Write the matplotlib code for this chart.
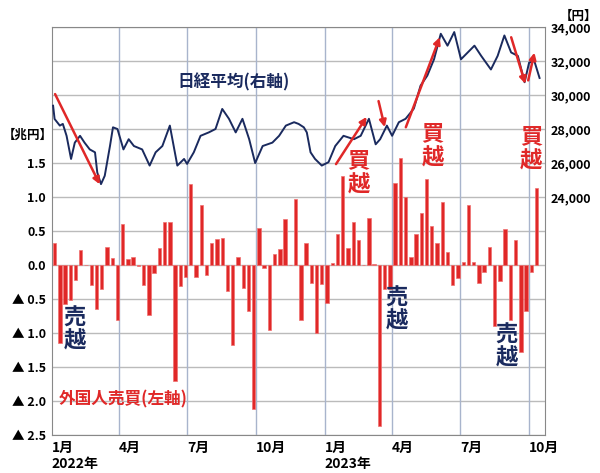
import matplotlib
matplotlib.use("Agg")
import matplotlib.pyplot as plt
import numpy as np
import pandas as pd

plt.rcParams['font.family'] = ['Noto Sans CJK JP', 'DejaVu Sans']
plt.rcParams['font.weight'] = 'bold'

ORIGIN = pd.Timestamp('2022-01-01')

# Weekly foreign investor net buying (trillion yen)
flow_values = [0.33, -1.15, -0.57, -0.52, -0.22, 0.22, 0.0, -0.29, -0.65, -0.35,
               0.27, 0.11, -0.80, 0.61, 0.09, 0.12, -0.02, -0.30, -0.74, -0.11,
               0.25, 0.63, 0.63, -1.71, -0.31, -0.17, 1.19, -0.18, 0.88, -0.14,
               0.33, 0.39, 0.40, -0.38, -1.18, 0.12, -0.33, -0.67, -2.12, 0.55,
               -0.05, -0.96, 0.17, 0.24, 0.67, 0.0, 0.97, -0.80,
               0.32, -0.26, -1.00, -0.28, -0.56, 0.03, 0.46, 1.31, 0.25, 0.64,
               0.37, 0.0, 0.69, 0.02, -2.37, -0.35, -0.35, 1.20, 1.58, 1.00,
               0.12, 0.45, 0.77, 1.27, 0.57, 0.33, 0.92, 0.19, -0.30, -0.19,
               0.04, 0.88, 0.04, -0.26, -0.10, 0.27, -0.90, -0.24, 0.53, -0.80,
               0.37, -1.28, -0.68, -0.10, 1.14]
flow_dates = pd.date_range('2022-01-05', periods=len(flow_values), freq='7D')

# Nikkei 225 (yen)
nikkei_dates = ['2022-01-03', '2022-01-05', '2022-01-12', '2022-01-16', '2022-01-21', '2022-01-27',
                '2022-02-01', '2022-02-08', '2022-02-14', '2022-02-21', '2022-02-28', '2022-03-03',
                '2022-03-08', '2022-03-13', '2022-03-20', '2022-03-24', '2022-03-30', '2022-04-07',
                '2022-04-14', '2022-04-21', '2022-05-02', '2022-05-12', '2022-05-20', '2022-05-29',
                '2022-06-08', '2022-06-18', '2022-06-27', '2022-07-01', '2022-07-10', '2022-07-19',
                '2022-07-30', '2022-08-08', '2022-08-17', '2022-08-26', '2022-09-04', '2022-09-13',
                '2022-09-22', '2022-09-30', '2022-10-10', '2022-10-23', '2022-11-01', '2022-11-10',
                '2022-11-21', '2022-11-27', '2022-12-04', '2022-12-08', '2022-12-13', '2022-12-19',
                '2022-12-28', '2023-01-06', '2023-01-15', '2023-01-26', '2023-02-09', '2023-02-18',
                '2023-03-01', '2023-03-10', '2023-03-16', '2023-03-25', '2023-04-01', '2023-04-10',
                '2023-04-19', '2023-04-30', '2023-05-09', '2023-05-18', '2023-05-27', '2023-06-05',
                '2023-06-14', '2023-06-23', '2023-07-02', '2023-07-11', '2023-07-20', '2023-07-29',
                '2023-08-11', '2023-08-20', '2023-08-29', '2023-09-07', '2023-09-16', '2023-09-25',
                '2023-10-01', '2023-10-08', '2023-10-15']
nikkei_values = [29370, 28590, 28200, 28300, 27600, 26240,
                 27200, 27600, 27200, 26800, 26630, 25450,
                 24760, 25250, 27000, 28100, 28000, 26800,
                 27400, 27000, 26800, 25850, 26630, 27000,
                 28200, 25850, 26240, 25950, 26630, 27600,
                 27800, 28000, 29180, 28600, 27800, 28600,
                 27400, 26000, 27000, 27200, 27600, 28200,
                 28400, 28300, 28100, 27800, 26630, 26240,
                 25850, 26050, 27000, 27600, 27400, 27600,
                 28600, 27100, 27400, 28200, 27600, 28400,
                 28600, 29200, 30550, 31140, 32100, 33600,
                 32900, 33700, 32100, 32500, 32900, 32300,
                 31500, 32300, 33500, 32500, 32300, 30750,
                 31900, 32000, 31000]

month_ticks = ['2022-01-01', '2022-04-01', '2022-07-01', '2022-10-01',
               '2023-01-01', '2023-04-01', '2023-07-01', '2023-10-01']
month_labels = ['1月\n2022年', '4月', '7月', '10月', '1月\n2023年', '4月', '7月', '10月']

left_ticks = [-2.5, -2.0, -1.5, -1.0, -0.5, 0.0, 0.5, 1.0, 1.5]
left_labels = ['▲ 2.5', '▲ 2.0', '▲ 1.5', '▲ 1.0', '▲ 0.5', '0.0', '0.5', '1.0', '1.5']
right_ticks = [24000, 26000, 28000, 30000, 32000, 34000]
right_labels = ['24,000', '26,000', '28,000', '30,000', '32,000', '34,000']


def days(d):
    return (pd.to_datetime(d) - ORIGIN) / pd.Timedelta(days=1)


fig = plt.figure(figsize=(6, 4.73), dpi=100)
ax = fig.add_axes([0.086, 0.080, 0.822, 0.863])
ax2 = ax.twinx()

xb = np.asarray(days(flow_dates))
ax.bar(xb, flow_values, width=4.5, color='#e02828', edgecolor='#f07070', linewidth=0.5, zorder=3)
ax.set_ylim(-2.5, 3.5)
ax.set_yticks(left_ticks)
ax.set_yticklabels(left_labels, fontsize=9)
xt = np.asarray(days(month_ticks))
ax.set_xticks(xt)
ax.set_xticklabels(month_labels, fontsize=10, ha='left')
ax.set_xlim(0, days('2023-10-22'))
for g in np.arange(-2.5, 3.51, 0.5):
    ax.axhline(g, color='#bbbbbb', lw=1, zorder=0)
for v in xt[1:]:
    ax.axvline(v, color='#a8b4cc', lw=1, zorder=0)
ax.tick_params(length=0, pad=4)
for s in ax.spines.values():
    s.set_color('#888888')

xn = np.asarray(days(nikkei_dates))
ax2.plot(xn, nikkei_values, color='#1a2a5e', lw=1.4, zorder=4)
ax2.set_ylim(10000, 34000)
ax2.set_yticks(right_ticks)
ax2.set_yticklabels(right_labels, fontsize=9)
ax2.tick_params(length=0, pad=4)
for s in ax2.spines.values():
    s.set_visible(False)

arrows = [(('2022-01-04', 30200), ('2022-03-08', 24600)),
          (('2023-01-14', 25800), ('2023-02-28', 28850)),
          (('2023-03-13', 29800), ('2023-03-23', 27950)),
          (('2023-04-18', 27950), ('2023-06-05', 33550)),
          (('2023-09-06', 33550), ('2023-09-27', 30500)),
          (('2023-09-29', 30700), ('2023-10-09', 32650))]
for (d0, v0), (d1, v1) in arrows:
    ax2.annotate('', xy=(days(d1), v1), xytext=(days(d0), v0),
                 arrowprops=dict(arrowstyle='-|>', color='#e02828', lw=1.8, mutation_scale=10), zorder=5)

ax.text(days('2022-09-01'), 2.69, '日経平均(右軸)', color='#1a2a5e', fontsize=12, ha='center', va='center', zorder=6)
ax.text(days('2022-01-10'), -1.97, '外国人売買(左軸)', color='#e02828', fontsize=12, ha='left', va='center', zorder=6)
for d, y in [('2022-02-01', -0.95), ('2023-04-07', -0.65), ('2023-09-01', -1.2)]:
    ax.text(days(d), y, '売\n越', color='#1a2a5e', fontsize=16, ha='center', va='center',
            linespacing=1.0, zorder=6)
for d, y in [('2023-02-15', 1.35), ('2023-05-25', 1.75), ('2023-10-04', 1.7)]:
    ax.text(days(d), y, '買\n越', color='#e02828', fontsize=16, ha='center', va='center',
            linespacing=1.0, zorder=6)

fig.text(0.005, 0.715, '【兆円】', fontsize=9, ha='left', va='center')
fig.text(0.995, 0.965, '【円】', fontsize=9, ha='right', va='center')

fig.savefig('out.png', dpi=100)
